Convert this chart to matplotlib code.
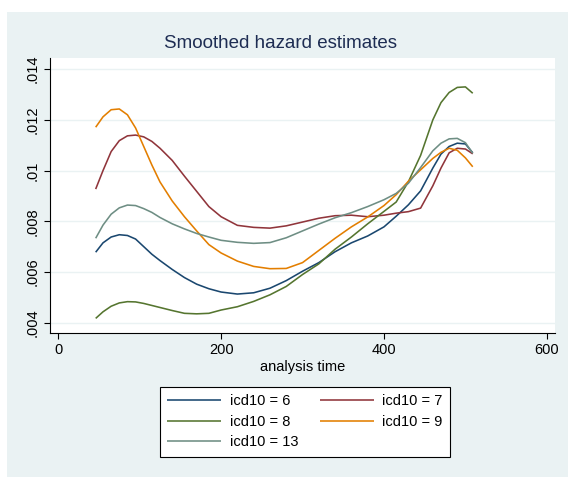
import matplotlib
matplotlib.use("Agg")
import matplotlib.pyplot as plt
from matplotlib.patches import Rectangle

plt.rcParams['font.family'] = ['Liberation Sans', 'DejaVu Sans']

# analysis time grid (shared by all series)
time = [46, 55, 65, 75, 85, 95, 105, 115, 125, 140, 155, 170, 185, 200, 220, 240,
        260, 280, 300, 320, 340, 360, 380, 400, 415, 430, 445, 460, 470, 480,
        490, 500, 509]

haz_6 = [.00678, .00715, .00738, .00747, .00744, .00730, .00700, .00670, .00645,
         .00610, .00578, .00552, .00534, .00521, .00513, .00518, .00536, .00566,
         .00603, .00637, .00680, .00715, .00742, .00778, .00820, .00865, .00920,
         .01010, .01065, .01095, .01108, .01105, .01070]
haz_7 = [.00927, .01000, .01075, .01118, .01137, .01140, .01133, .01115, .01088,
         .01040, .00978, .00918, .00858, .00818, .00784, .00776, .00773, .00782,
         .00797, .00812, .00822, .00824, .00818, .00824, .00832, .00838, .00852,
         .00940, .01010, .01070, .01088, .01085, .01066]
haz_8 = [.00417, .00443, .00465, .00478, .00483, .00482, .00476, .00468, .00460,
         .00448, .00437, .00435, .00437, .00450, .00463, .00484, .00510, .00543,
         .00590, .00632, .00690, .00738, .00790, .00839, .00876, .00956, .01060,
         .01200, .01268, .01308, .01328, .01330, .01305]
haz_9 = [.01171, .01212, .01240, .01243, .01220, .01168, .01095, .01022, .00955,
         .00880, .00818, .00762, .00708, .00675, .00643, .00622, .00613, .00614,
         .00637, .00685, .00733, .00778, .00817, .00862, .00905, .00958, .01003,
         .01048, .01072, .01088, .01080, .01050, .01015]
haz_13 = [.00733, .00785, .00828, .00853, .00864, .00862, .00850, .00835, .00815,
          .00790, .00770, .00752, .00738, .00725, .00717, .00713, .00716, .00735,
          .00762, .00789, .00814, .00834, .00858, .00885, .00910, .00950, .01012,
          .01078, .01108, .01125, .01127, .01110, .01068]

labels = ["icd10 = 6", "icd10 = 7", "icd10 = 8", "icd10 = 9", "icd10 = 13"]
colors = ["#1a476f", "#90353b", "#55752f", "#e37e00", "#6e8e84"]
series = [haz_6, haz_7, haz_8, haz_9, haz_13]

xticks = [0, 200, 400, 600]
yticks = [.004, .006, .008, .010, .012, .014]
yticklabels = [".004", ".006", ".008", ".01", ".012", ".014"]

W, H = 568, 478
fig = plt.figure(figsize=(W / 100, H / 100), dpi=100)
fig.patch.set_facecolor("white")
bg = "#eaf2f3"
fig.patches.append(Rectangle((7 / W, 1 / H), 1 - 7 / W, (H - 12 - 1) / H,
                             transform=fig.transFigure, facecolor=bg,
                             edgecolor="none", zorder=-10))

L, R, T, B = 49.5, 555, 58, 333
ax = fig.add_axes([L / W, (H - B) / H, (R - L) / W, (B - T) / H])
ax.set_facecolor("white")

handles = []
for s, c, lab in zip(series, colors, labels):
    h, = ax.plot(time, s, color=c, lw=1.15, label=lab,
                 solid_joinstyle="round", solid_capstyle="butt")
    handles.append(h)

ax.set_xlim(-10.7, 610)
ax.set_ylim(.003594, .01444)
ax.set_xticks(xticks)
ax.set_xticklabels([str(v) for v in xticks])
ax.set_yticks(yticks)
ax.set_yticklabels(yticklabels, rotation=90, va="center")
ax.tick_params(axis="both", labelsize=10.5, length=4, width=0.8, color="black",
               labelcolor="black", pad=3)
for sp in ["top", "right"]:
    ax.spines[sp].set_visible(False)
for sp in ["left", "bottom"]:
    ax.spines[sp].set_color("black")
    ax.spines[sp].set_linewidth(0.8)
ax.yaxis.grid(True, color=bg, lw=1.0)
ax.xaxis.grid(False)
ax.set_axisbelow(True)

ax.set_xlabel("analysis time", fontsize=10.5, labelpad=2)
fig.text(280.5 / W, (H - 43) / H, "Smoothed hazard estimates",
         ha="center", va="center", fontsize=13.5, color="#1e2d53")

order = [0, 2, 4, 1, 3]
leg = fig.legend([handles[i] for i in order], [labels[i] for i in order],
                 ncol=2, loc="upper center",
                 bbox_to_anchor=(305 / W, 1 - 387 / H),
                 bbox_transform=fig.transFigure, borderaxespad=0,
                 fontsize=10.5, frameon=True, fancybox=False,
                 edgecolor="black", facecolor="white", framealpha=1,
                 handlelength=3.7, handletextpad=0.6, columnspacing=1.45,
                 labelspacing=0.45, borderpad=0.5)
leg.get_frame().set_linewidth(0.8)

fig.savefig("out.png", dpi=100, facecolor="white")
